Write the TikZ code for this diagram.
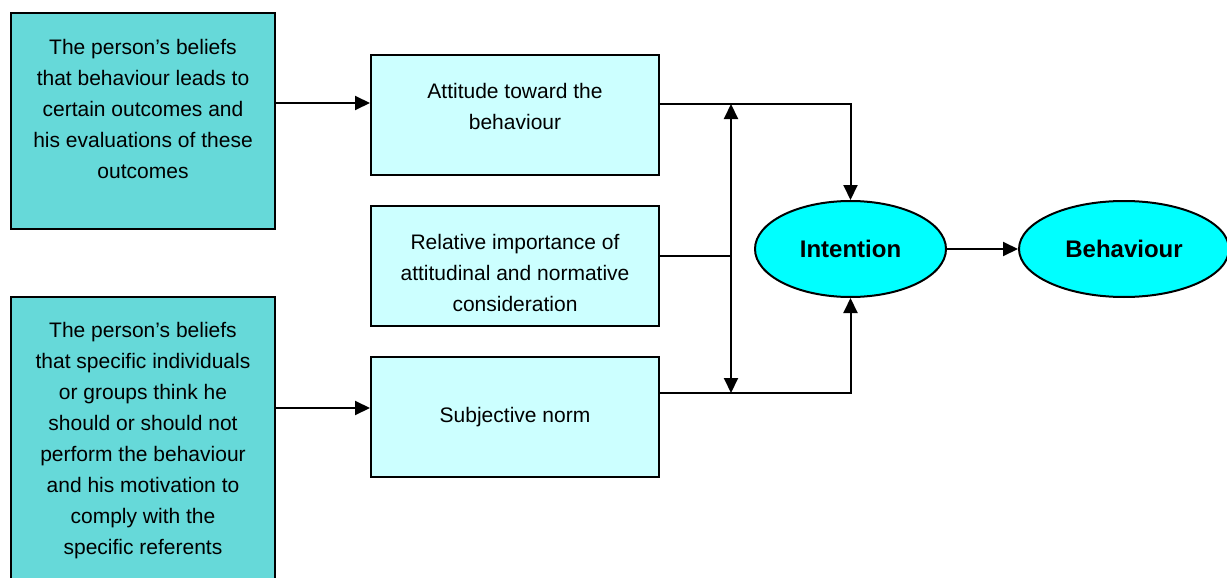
\documentclass[tikz,border=0pt]{standalone}
\usepackage{fontspec}
\setmainfont{Liberation Sans}
\usepackage{xcolor}
\definecolor{beliefteal}{RGB}{102,217,217}
\definecolor{factorcyan}{RGB}{204,255,255}
\definecolor{outcomecyan}{RGB}{0,255,255}
\usetikzlibrary{arrows.meta}
\usetikzlibrary{shapes.geometric}
\newcommand{\sizetext}{\fontsize{21}{31}\selectfont}
\newcommand{\sizeoutcome}{\fontsize{24}{29}\selectfont\bfseries}
\newcommand{\widthbelief}{264}
\newcommand{\widthfactor}{288}
\tikzset{
    common/.style={draw, line width=2pt, inner sep=0pt},
    belief/.style={common, rectangle, fill=beliefteal, minimum width=\widthbelief},
    factor/.style={common, rectangle, fill=factorcyan, minimum width=\widthfactor, minimum height=120},
    outcome/.style={common, ellipse, fill=outcomecyan, minimum height=96, font=\sizeoutcome},
    txt/.style={align=center, inner sep=0pt, font=\sizetext},
    link/.style={line width=2pt, -{Triangle[length=15pt, width=14pt]}},
    twolink/.style={line width=2pt, {Triangle[length=15pt, width=14pt]}-{Triangle[length=15pt, width=14pt]}},
    plain/.style={line width=2pt}
}
\begin{document}
\begin{tikzpicture}[x=1pt, y=-1pt]
  \useasboundingbox (0,0) rectangle (1227,578);

  \node[belief, minimum height=216] (beliefs) at (143,121) {};
  \node[belief, minimum height=287] (referents) at (143,440.5) {};
  \node[factor] (attitude) at (515,115) {};
  \node[factor] (relative) at (515,266) {};
  \node[factor] (norm) at (515,417) {};
  \node[outcome, minimum width=191] (intention) at (850.5,249) {Intention};
  \node[outcome, minimum width=210] (behaviour) at (1124,249) {Behaviour};

  \node[txt] (beliefs-text) at (143,109) {The person’s beliefs\\that behaviour leads to\\certain outcomes and\\his evaluations of these\\outcomes};
  \node[txt] (referents-text) at (referents.center) {The person’s beliefs\\that specific individuals\\or groups think he\\should or should not\\perform the behaviour\\and his motivation to\\comply with the\\specific referents};
  \node[txt] (attitude-text) at (515,106.5) {Attitude toward the\\behaviour};
  \node[txt] (relative-text) at (515,273) {Relative importance of\\attitudinal and normative\\consideration};
  \node[txt] (norm-text) at (norm.center) {Subjective norm};

  \coordinate (bar-top) at (731,104);
  \coordinate (bar-mid) at (731,256);
  \coordinate (bar-bottom) at (731,393);

  \draw[link] ([yshift=18pt]beliefs.east) -- ([yshift=12pt]attitude.west);
  \draw[link] ([yshift=32.5pt]referents.east) -- ([yshift=9pt]norm.west);
  \draw[link] ([yshift=11pt]attitude.east) -| (intention.north);
  \draw[link] ([yshift=24pt]norm.east) -| (intention.south);
  \draw[plain] ([yshift=10pt]relative.east) -- (bar-mid);
  \draw[twolink] (bar-bottom) -- (bar-top);
  \draw[link] (intention) -- (behaviour);
\end{tikzpicture}
\end{document}
